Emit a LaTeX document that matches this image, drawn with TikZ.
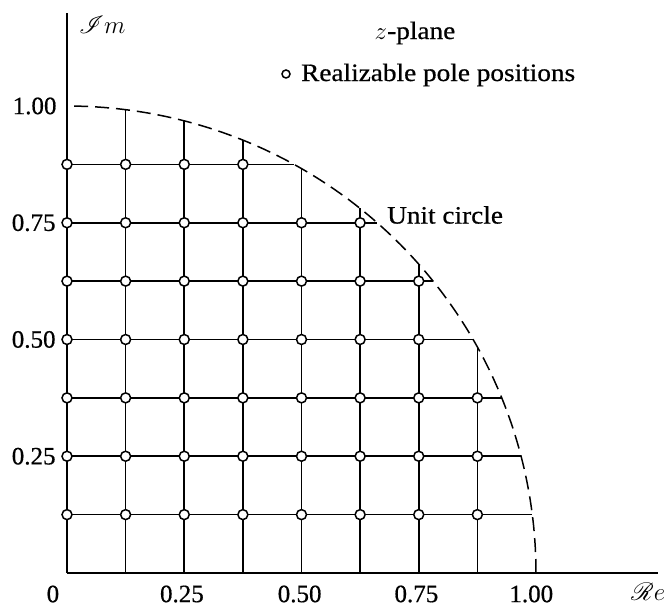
\documentclass[tikz,border=0pt]{standalone}
\usepackage{fontspec}
\usepackage{mathrsfs}
\setmainfont[FakeBold=0.6]{Liberation Serif}
\newfontfamily\wordfont[FakeStretch=1.09,FakeBold=0.6]{Liberation Serif}
\begin{document}
\begin{tikzpicture}[x=1pt,y=1pt,
  gridline/.style={line width=1.7pt},
  axisline/.style={line width=1.9pt},
  pole/.style={circle,draw,line width=1.5pt,fill=white,minimum size=10pt,inner sep=0pt},
  lbl/.style={font=\fontsize{25}{30}\selectfont,inner sep=0pt},
  wlbl/.style={font=\fontsize{25}{30}\wordfont,inner sep=0pt},
  unitc/.style={line width=1.5pt,dash pattern=on 14pt off 7pt}]
\useasboundingbox (0,0) rectangle (664,608);
\begin{scope}[shift={(67,35)},x=469pt,y=467pt]
  % grid lines clipped to unit circle
  \foreach \k in {1,...,7}{
    \pgfmathsetmacro{\v}{\k/8}
    \pgfmathsetmacro{\h}{sqrt(1-\v*\v)}
    \draw[gridline] (\v,0) -- (\v,\h);
    \draw[gridline] (0,\v) -- (\h,\v);
  }
  % unit circle
  \draw[unitc] plot[domain=0:90,samples=120] ({cos(\x)},{sin(\x)});
  % axes
  \coordinate (O) at (0,0);
  \coordinate (xe) at (1.2591,0);
  \coordinate (ye) at (0,1.1991);
  \draw[axisline] (O) -- (xe);
  \draw[axisline] (O) -- (ye);
  % poles
  \foreach \i in {0,...,7}{
    \foreach \j in {1,...,7}{
      \pgfmathsetmacro{\r}{(\i*\i+\j*\j)<64 ? 1 : 0}
      \ifdim\r pt>0.5pt
        \node[pole] (p\i\j) at (\i/8,\j/8) {};
      \fi
    }
  }
  % axis labels
  \node[lbl] (x0) at (-0.03,-0.045) {0};
  \node[lbl] (x1) at (0.245,-0.045) {0.25};
  \node[lbl] (x2) at (0.496,-0.045) {0.50};
  \node[lbl] (x3) at (0.745,-0.045) {0.75};
  \node[lbl] (x4) at (0.99,-0.045) {1.00};
  \node[lbl,anchor=east] (y1) at (-0.024,0.25) {0.25};
  \node[lbl,anchor=east] (y2) at (-0.024,0.50) {0.50};
  \node[lbl,anchor=east] (y3) at (-0.024,0.75) {0.75};
  \node[lbl,anchor=east] (y4) at (-0.022,1.00) {1.00};
\end{scope}
\node[lbl,anchor=west] (re) at (631,16) {$\mathscr{R}e$};
\node[lbl,anchor=west] (im) at (79,583) {$\mathscr{I}m$};
\node[wlbl] (zp) at (415,575) {$z$-plane};
\node[pole,minimum size=8pt] (leg) at (286,534) {};
\node[wlbl,anchor=west] (legt) at (301,533) {Realizable pole positions};
\node[wlbl,anchor=west] (uc) at (387,393) {Unit circle};
\end{tikzpicture}
\end{document}
